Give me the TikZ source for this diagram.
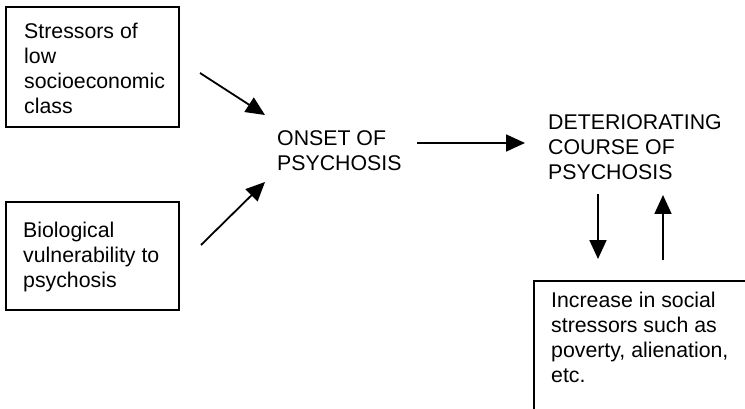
\documentclass[tikz,border=0pt]{standalone}
\usepackage{fontspec}
\setmainfont{Liberation Sans}
\usetikzlibrary{arrows.meta}
\begin{document}
\begin{tikzpicture}[x=1pt,y=-1pt,
  box/.style={draw, line width=1.5pt, rectangle, inner sep=0pt},
  txt/.style={anchor=north west, inner sep=0pt, align=left,
    font=\fontsize{21.3}{25}\selectfont},
  flow/.style={line width=1.8pt, -{Triangle[length=19pt,width=17pt]}}]
\useasboundingbox (0,0) rectangle (745,409);
\clip (0,0) rectangle (745,409);

% boxes
\node[box, minimum width=173pt, minimum height=120pt] (stress) at (92.5,67) {};
\node[box, minimum width=173pt, minimum height=108pt] (bio) at (92.5,256) {};
\node[box, anchor=north west, minimum width=240pt, minimum height=160pt] (social) at (533,280) {};

% texts
\node[txt] (stresstext) at (24,23) {Stressors of\\low\\socioeconomic\\class};
\node[txt] (biotext) at (23,222) {Biological\\vulnerability to\\psychosis};
\node[txt] (onset) at (277,130) {ONSET OF\\PSYCHOSIS};
\node[txt] (course) at (548,114) {DETERIORATING\\COURSE OF\\PSYCHOSIS};
\node[txt] (socialtext) at (551,292) {Increase in social\\stressors such as\\poverty, alienation,\\etc.};

% arrow ends
\coordinate (s1) at (200,73);   \coordinate (e1) at (265,115);
\coordinate (s2) at (201,245);  \coordinate (e2) at (265,182);
\coordinate (s3) at (417,143);  \coordinate (e3) at (525,143);
\coordinate (s4) at (598,194);  \coordinate (e4) at (598,259);
\coordinate (s5) at (663,260);  \coordinate (e5) at (663,195);

\draw[flow] (s1) -- (e1);
\draw[flow] (s2) -- (e2);
\draw[flow] (s3) -- (e3);
\draw[flow] (s4) -- (e4);
\draw[flow] (s5) -- (e5);
\end{tikzpicture}
\end{document}
